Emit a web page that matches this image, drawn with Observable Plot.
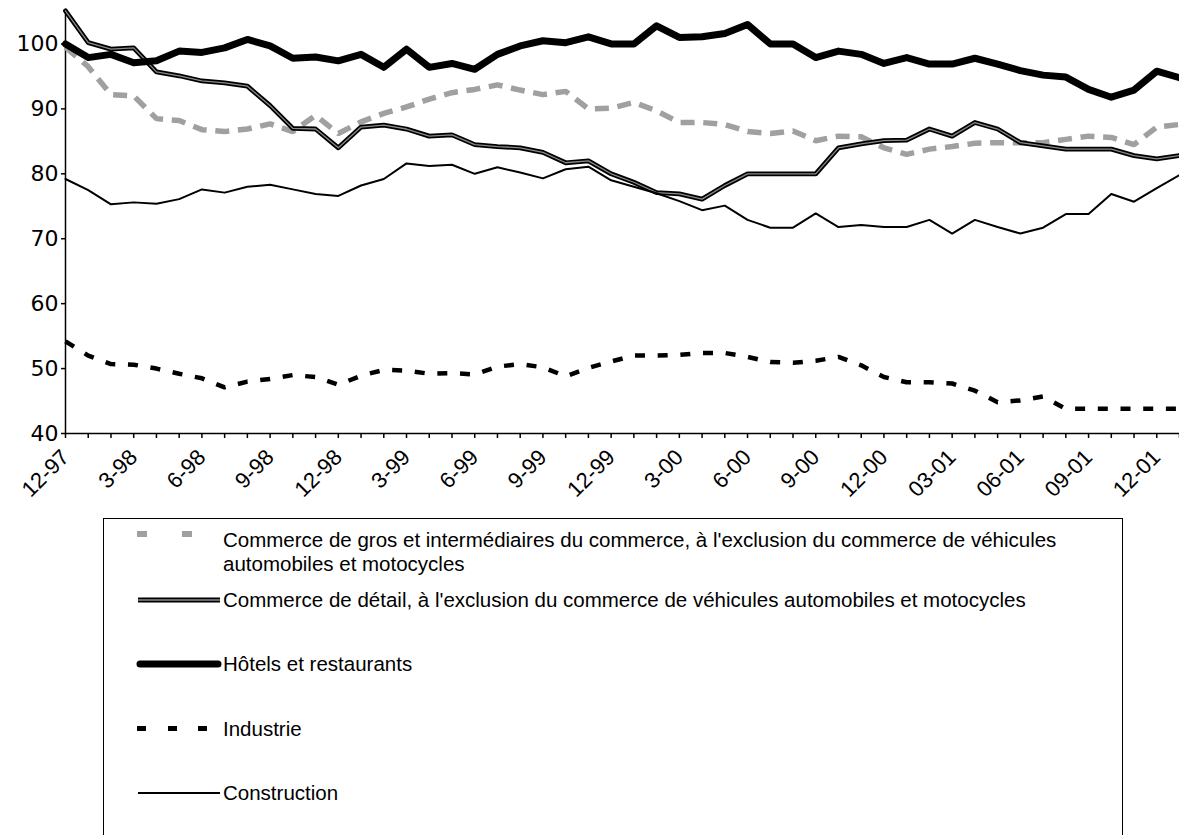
<!DOCTYPE html>
<html>
<head>
<meta charset="utf-8">
<script src="https://cdn.jsdelivr.net/npm/d3@7"></script>
<script src="https://cdn.jsdelivr.net/npm/@observablehq/plot@0.6"></script>
<style>
  html, body { margin: 0; padding: 0; background: #fff; }
  #page { position: relative; width: 1179px; height: 835px; overflow: hidden; font-family: "Liberation Sans", Arial, sans-serif; }
  #chart { position: absolute; left: 0; top: 0; }
  #legend { position: absolute; left: 103px; top: 518px; }
  #chart g[aria-label="y-axis tick label"] text { font-family: "DejaVu Sans", "Liberation Sans", sans-serif; }
</style>
</head>
<body>
<div id="page">
  <div id="chart"></div>
  <div id="legend"></div>
</div>
<script>
// ---- data ----
const months = ["12-97","1-98","2-98","3-98","4-98","5-98","6-98","7-98","8-98","9-98","10-98","11-98",
  "12-98","1-99","2-99","3-99","4-99","5-99","6-99","7-99","8-99","9-99","10-99","11-99",
  "12-99","1-00","2-00","3-00","4-00","5-00","6-00","7-00","8-00","9-00","10-00","11-00",
  "12-00","01-01","02-01","03-01","04-01","05-01","06-01","07-01","08-01","09-01","10-01","11-01",
  "12-01","01-02"];
const labelledMonths = ["12-97","3-98","6-98","9-98","12-98","3-99","6-99","9-99","12-99","3-00","6-00","9-00","12-00","03-01","06-01","09-01","12-01"];
const yTicks = [40, 50, 60, 70, 80, 90, 100];

const seriesNames = [
  "Commerce de gros et intermédiaires du commerce, à l'exclusion du commerce de véhicules automobiles et motocycles",
  "Commerce de détail, à l'exclusion du commerce de véhicules automobiles et motocycles",
  "Hôtels et restaurants",
  "Industrie",
  "Construction"
];

const gros = [99.5, 96.5, 92.2, 92.0, 88.5, 88.2, 86.8, 86.5, 86.9, 87.7,
  86.5, 89.0, 86.2, 88.0, 89.3, 90.3, 91.5, 92.5, 93.0, 93.7,
  92.9, 92.2, 92.7, 90.0, 90.1, 91.0, 89.7, 87.9, 87.9, 87.6,
  86.5, 86.2, 86.6, 85.1, 85.8, 85.7, 84.0, 83.0, 83.8, 84.2,
  84.7, 84.8, 84.8, 84.8, 85.3, 85.8, 85.6, 84.5, 87.2, 87.6];
const detail = [105.1, 100.2, 99.2, 99.4, 95.7, 95.1, 94.3, 94.0, 93.5, 90.5,
  87.0, 86.9, 84.0, 87.2, 87.5, 86.9, 85.8, 86.0, 84.5, 84.2,
  84.0, 83.3, 81.7, 82.0, 80.0, 78.7, 77.1, 76.9, 76.1, 78.2,
  80.0, 80.0, 80.0, 80.0, 84.0, 84.6, 85.1, 85.2, 86.9, 85.8,
  87.9, 86.9, 84.8, 84.3, 83.8, 83.8, 83.8, 82.8, 82.3, 82.8];
const hotels = [100.0, 97.9, 98.4, 97.1, 97.4, 98.9, 98.7, 99.4, 100.7, 99.7,
  97.8, 98.0, 97.4, 98.4, 96.4, 99.2, 96.4, 97.0, 96.1, 98.4,
  99.7, 100.5, 100.2, 101.1, 100.0, 100.0, 102.8, 101.0, 101.1, 101.6,
  103.0, 100.0, 100.0, 97.9, 98.9, 98.4, 97.0, 97.9, 96.9, 96.9,
  97.8, 96.9, 95.9, 95.2, 94.9, 93.0, 91.8, 92.9, 95.8, 94.8];
const industrie = [54.2, 52.0, 50.7, 50.6, 50.0, 49.2, 48.5, 47.1, 48.0, 48.4,
  49.0, 48.7, 47.5, 48.9, 49.8, 49.7, 49.2, 49.3, 49.1, 50.3,
  50.7, 50.2, 48.8, 50.1, 51.1, 52.0, 52.0, 52.1, 52.4, 52.4,
  51.8, 51.0, 50.9, 51.2, 51.8, 50.5, 48.7, 47.9, 47.9, 47.7,
  46.6, 44.8, 45.1, 45.7, 43.8, 43.8, 43.8, 43.8, 43.8, 43.8];
const construction = [79.2, 77.5, 75.3, 75.6, 75.4, 76.1, 77.6, 77.1, 78.0, 78.3,
  77.6, 76.9, 76.6, 78.2, 79.2, 81.6, 81.2, 81.4, 80.0, 81.0,
  80.2, 79.3, 80.7, 81.1, 79.0, 78.0, 77.0, 75.8, 74.4, 75.1,
  72.9, 71.7, 71.7, 73.9, 71.8, 72.1, 71.8, 71.8, 72.9, 70.8,
  72.9, 71.8, 70.8, 71.7, 73.8, 73.8, 76.9, 75.7, 77.8, 79.8];

// ---- build tables ----
const toRows = (vals) => months.map((m, i) => ({month: m, value: vals[i]}));
const grosRows = toRows(gros), detailRows = toRows(detail), hotelsRows = toRows(hotels),
      industrieRows = toRows(industrie), constructionRows = toRows(construction);
const labelSet = new Set(labelledMonths);
const GRAY = "#a0a0a0";

const chart = Plot.plot({
  width: 1179,
  height: 510,
  marginLeft: 65,
  marginRight: 0,
  marginTop: 11,
  marginBottom: 77,
  style: {fontFamily: '"Liberation Sans", Arial, sans-serif', fontSize: "22px", color: "#000", background: "#fff", overflow: "visible"},
  x: {type: "point", domain: months, padding: 0},
  y: {domain: [40, 105]},
  marks: [
    Plot.axisY({ticks: yTicks, tickSize: 4, tickPadding: 3, fontSize: 22, label: null, strokeWidth: 1.5}),
    Plot.axisX({ticks: months, tickSize: 5, tickPadding: 15, tickRotate: -45, textAnchor: "end",
      fontSize: 22, label: null, strokeWidth: 1.5,
      tickFormat: (d) => labelSet.has(d) ? d : ""}),
    Plot.ruleY([40], {stroke: "#000", strokeWidth: 1.5}),
    Plot.ruleX([months[0]], {stroke: "#000", strokeWidth: 1.5}),
    Plot.line(grosRows, {x: "month", y: "value", stroke: GRAY, strokeWidth: 5.5, strokeDasharray: "14,8.7", strokeLinecap: "butt", strokeLinejoin: "miter"}),
    Plot.line(detailRows, {x: "month", y: "value", stroke: "#000", strokeWidth: 4.8}),
    Plot.line(detailRows, {x: "month", y: "value", stroke: "#8a8a8a", strokeWidth: 1.3}),
    Plot.line(hotelsRows, {x: "month", y: "value", stroke: "#000", strokeWidth: 7}),
    Plot.line(industrieRows, {x: "month", y: "value", stroke: "#000", strokeWidth: 4.5, strokeDasharray: "10,12.7", strokeLinecap: "butt", strokeLinejoin: "miter"}),
    Plot.line(constructionRows, {x: "month", y: "value", stroke: "#000", strokeWidth: 2})
  ]
});
document.getElementById("chart").appendChild(chart);

// ---- legend ----
const W = 1020, H = 340;
const svg = d3.select("#legend").append("svg").attr("width", W).attr("height", H)
  .style("font-family", '"Liberation Sans", Arial, sans-serif').style("font-size", "20.5px");
svg.append("rect").attr("x", 0.5).attr("y", 0.5).attr("width", W - 1).attr("height", H - 1)
  .attr("fill", "#fff").attr("stroke", "#000").attr("stroke-width", 1);

const tx = 120;
// gros
svg.append("rect").attr("x", 34).attr("y", 13).attr("width", 10).attr("height", 6).attr("fill", GRAY);
svg.append("rect").attr("x", 79).attr("y", 13).attr("width", 10).attr("height", 6).attr("fill", GRAY);
svg.append("text").attr("x", tx).attr("y", 29).text("Commerce de gros et intermédiaires du commerce, à l'exclusion du commerce de véhicules");
svg.append("text").attr("x", tx).attr("y", 53).text("automobiles et motocycles");
// détail
svg.append("line").attr("x1", 35).attr("x2", 117).attr("y1", 82).attr("y2", 82).attr("stroke", "#000").attr("stroke-width", 4.8);
svg.append("line").attr("x1", 35).attr("x2", 117).attr("y1", 82).attr("y2", 82).attr("stroke", "#8a8a8a").attr("stroke-width", 1.3);
svg.append("text").attr("x", tx).attr("y", 89).text(seriesNames[1]);
// hôtels
svg.append("line").attr("x1", 37).attr("x2", 115).attr("y1", 146).attr("y2", 146).attr("stroke", "#000").attr("stroke-width", 7).attr("stroke-linecap", "round");
svg.append("text").attr("x", tx).attr("y", 153).text(seriesNames[2]);
// industrie
[34, 65, 95].forEach(x0 => svg.append("rect").attr("x", x0).attr("y", 208).attr("width", 9).attr("height", 5).attr("fill", "#000"));
svg.append("text").attr("x", tx).attr("y", 218).text(seriesNames[3]);
// construction
svg.append("line").attr("x1", 35).attr("x2", 117).attr("y1", 275).attr("y2", 275).attr("stroke", "#000").attr("stroke-width", 2);
svg.append("text").attr("x", tx).attr("y", 282).text(seriesNames[4]);
</script>
</body>
</html>
